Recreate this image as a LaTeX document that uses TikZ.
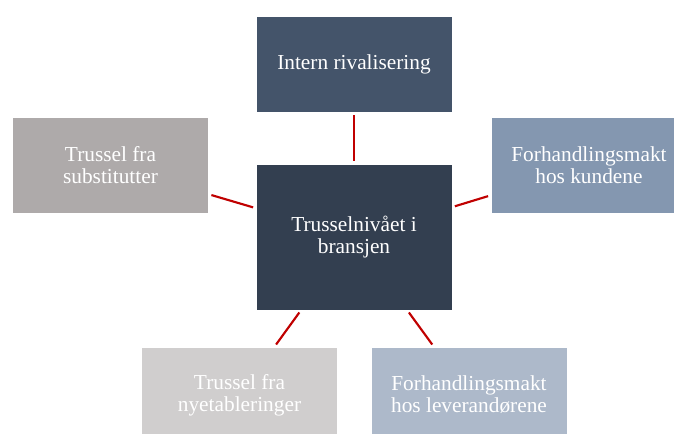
\documentclass[tikz,border=0pt]{standalone}
\usepackage{fontspec}
\setmainfont{Liberation Serif}

\definecolor{slatetop}{HTML}{44546A}
\definecolor{slatemid}{HTML}{333F50}
\definecolor{slatelight}{HTML}{8497B0}
\definecolor{slatepale}{HTML}{ADB9CA}
\definecolor{greydark}{HTML}{AEAAAA}
\definecolor{greylight}{HTML}{D0CECE}
\definecolor{linkred}{HTML}{C00000}

\tikzset{
  force/.style={rectangle, draw=white, line width=0.5pt, text=white, align=center,
    minimum width=147pt, minimum height=72pt, inner sep=2pt,
    font=\fontsize{16}{16.5}\selectfont},
  link/.style={draw=linkred, line width=1.6pt, shorten <=2pt, shorten >=2pt}
}

\begin{document}
\begin{tikzpicture}[x=0.75pt, y=-0.75pt]
  \useasboundingbox (0,0) rectangle (674,434);
  \clip (0,0) rectangle (674,434);

  % The centre box
  \node[force, fill=slatemid, minimum height=109.5pt] (centre) at (354,237) {Trusselnivået i\\bransjen};

  % The five forces round it
  \node[force, fill=slatetop] (rivalry) at (354,64.5) {Intern rivalisering};
  \node[force, fill=greydark] (substitutes) at (110.5,165.5) {Trussel fra\\substitutter};
  \node[force, fill=slatelight] (customers) at (589,165.5) {Forhandlingsmakt\\hos kundene};
  \node[force, fill=greylight] (entrants) at (239.5,395) {Trussel fra\\nyetableringer};
  \node[force, fill=slatepale] (suppliers) at (469,395) {Forhandlingsmakt\\hos leverandørene};

  % Red links from the centre
  \draw[link] (centre) -- (rivalry);
  \draw[link] (centre) -- (substitutes);
  \draw[link] (centre) -- (customers);
  \draw[link] (centre) -- (entrants);
  \draw[link] (centre) -- (suppliers);
\end{tikzpicture}
\end{document}
